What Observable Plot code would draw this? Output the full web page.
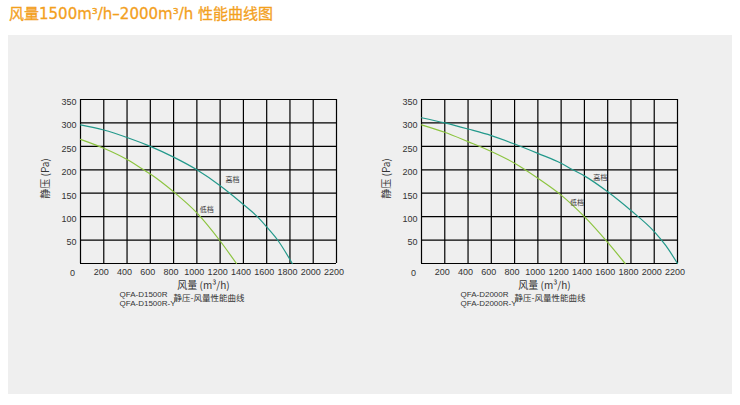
<!DOCTYPE html>
<html>
<head>
<meta charset="utf-8">
<script src="https://cdn.jsdelivr.net/npm/d3@7"></script>
<script src="https://cdn.jsdelivr.net/npm/@observablehq/plot@0.6"></script>
<style>
  html, body { margin: 0; padding: 0; background: #ffffff; }
  body { width: 740px; height: 405px; position: relative; overflow: hidden; }
  #title { position: absolute; left: 9px; top: 4px; font: 15px "DejaVu Sans", "Noto Sans CJK SC", sans-serif; color: #f3a01d; line-height: 20px; white-space: nowrap; -webkit-text-stroke: 0.3px #f3a01d; }
  #panel { position: absolute; left: 8px; top: 35px; width: 724px; height: 359px; background: #efefef; }
  .chart { position: absolute; top: 0; }
</style>
</head>
<body>
<div id="title">风量1500m³/h–2000m³/h 性能曲线图</div>
<div id="panel"></div>
<div id="c1" class="chart" style="left:0px"></div>
<div id="c2" class="chart" style="left:342px"></div>
<script>
// ---- data ----
const xTicks = [200, 400, 600, 800, 1000, 1200, 1400, 1600, 1800, 2000, 2200];
const yTicks = [50, 100, 150, 200, 250, 300, 350];
const gridX = [0, 200, 400, 600, 800, 1000, 1200, 1400, 1600, 1800, 2000, 2200];
const gridY = [0, 50, 100, 150, 200, 250, 300, 350];

// chart 1: QFA-D1500R
const high1 = [[0,296],[200,285],[400,269],[600,250],[800,227],[1000,200],[1200,166],[1400,126],[1520,100],[1600,78],[1700,48],[1820,0]];
const low1  = [[0,265],[200,246],[400,222],[543,200],[600,191],[800,153],[1000,108],[1200,48],[1340,0]];
// chart 2: QFA-D2000R
const high2 = [[0,311],[200,300],[400,287],[600,273],[800,255],[1000,235],[1200,214],[1300,200],[1400,187],[1600,153],[1800,113],[2000,68],[2100,38],[2200,0]];
const low2  = [[0,296],[200,280],[400,260],[600,239],[800,214],[1000,182],[1200,146],[1400,100],[1600,45],[1750,0]];

const labels1 = [{x:1306, y:178, t:"高档"}, {x:1086, y:114, t:"低档"}];
const labels2 = [{x:1536, y:184, t:"高档"}, {x:1336, y:130, t:"低档"}];

const models1 = ["QFA-D1500R", "QFA-D1500R-Y"];
const models2 = ["QFA-D2000R", "QFA-D2000R-Y"];
const caption = "静压-风量性能曲线";
const xTitle = "风量 (m³/h)";
const yTitle = "静压 (Pa)";

const highColor = "#23998b";
const lowColor = "#8cc43f";
const cjk = "'Noto Sans CJK SC', sans-serif";
const latin = "'Liberation Sans', Arial, sans-serif";

function chart(high, low, labels, models, mLeft, mRight) {
  return Plot.plot({
    width: 350, height: 320,
    marginLeft: mLeft, marginRight: mRight, marginTop: 99, marginBottom: 57,
    style: {background: "transparent", fontFamily: latin, color: "#333"},
    x: {domain: [0, 2200]},
    y: {domain: [0, 350]},
    marks: [
      Plot.ruleX(gridX, {stroke: "#000", strokeWidth: 1.2}),
      Plot.ruleY(gridY, {stroke: "#000", strokeWidth: 1.2}),
      Plot.line(high, {x: d => d[0], y: d => d[1], stroke: highColor, strokeWidth: 1.2, curve: "monotone-x"}),
      Plot.line(low, {x: d => d[0], y: d => d[1], stroke: lowColor, strokeWidth: 1.2, curve: "monotone-x"}),
      Plot.text(labels, {x: "x", y: "y", text: "t", fontSize: 7, fill: "#333", fontFamily: cjk}),
      Plot.axisX({ticks: xTicks, tickSize: 0, tickPadding: 5, dx: -2.5, fontSize: 9, label: null, tickFormat: d => String(d)}),
      Plot.axisY({ticks: yTicks, tickSize: 0, tickPadding: 4, dy: 2.5, fontSize: 9, label: null}),
      Plot.text([0], {x: d => d, frameAnchor: "bottom", lineAnchor: "middle", dy: 9.5, dx: -8, text: d => String(d), fontSize: 9, fill: "#333"}),
      Plot.text([yTitle], {frameAnchor: "left", textAnchor: "middle", lineAnchor: "middle", rotate: -90, dx: -35, dy: -3, fontSize: 10, fontFamily: cjk, fill: "#333"}),
      Plot.text([xTitle], {frameAnchor: "bottom", textAnchor: "middle", lineAnchor: "middle", dx: -5, dy: 22.5, fontSize: 10, fontFamily: cjk, fill: "#333"}),
      Plot.text([models[0]], {frameAnchor: "bottom-left", lineAnchor: "middle", dx: 39, dy: 30.5, textAnchor: "start", fontSize: 8, fill: "#333"}),
      Plot.text([models[1]], {frameAnchor: "bottom-left", lineAnchor: "middle", dx: 39, dy: 39.5, textAnchor: "start", fontSize: 8, fill: "#333"}),
      Plot.text([caption], {frameAnchor: "bottom-left", lineAnchor: "middle", dx: 93, dy: 35, textAnchor: "start", fontSize: 8.5, fontFamily: cjk, fill: "#333"})
    ]
  });
}

document.getElementById("c1").append(chart(high1, low1, labels1, models1, 80, 14));
document.getElementById("c2").append(chart(high2, low2, labels2, models2, 79, 15));
</script>
</body>
</html>
